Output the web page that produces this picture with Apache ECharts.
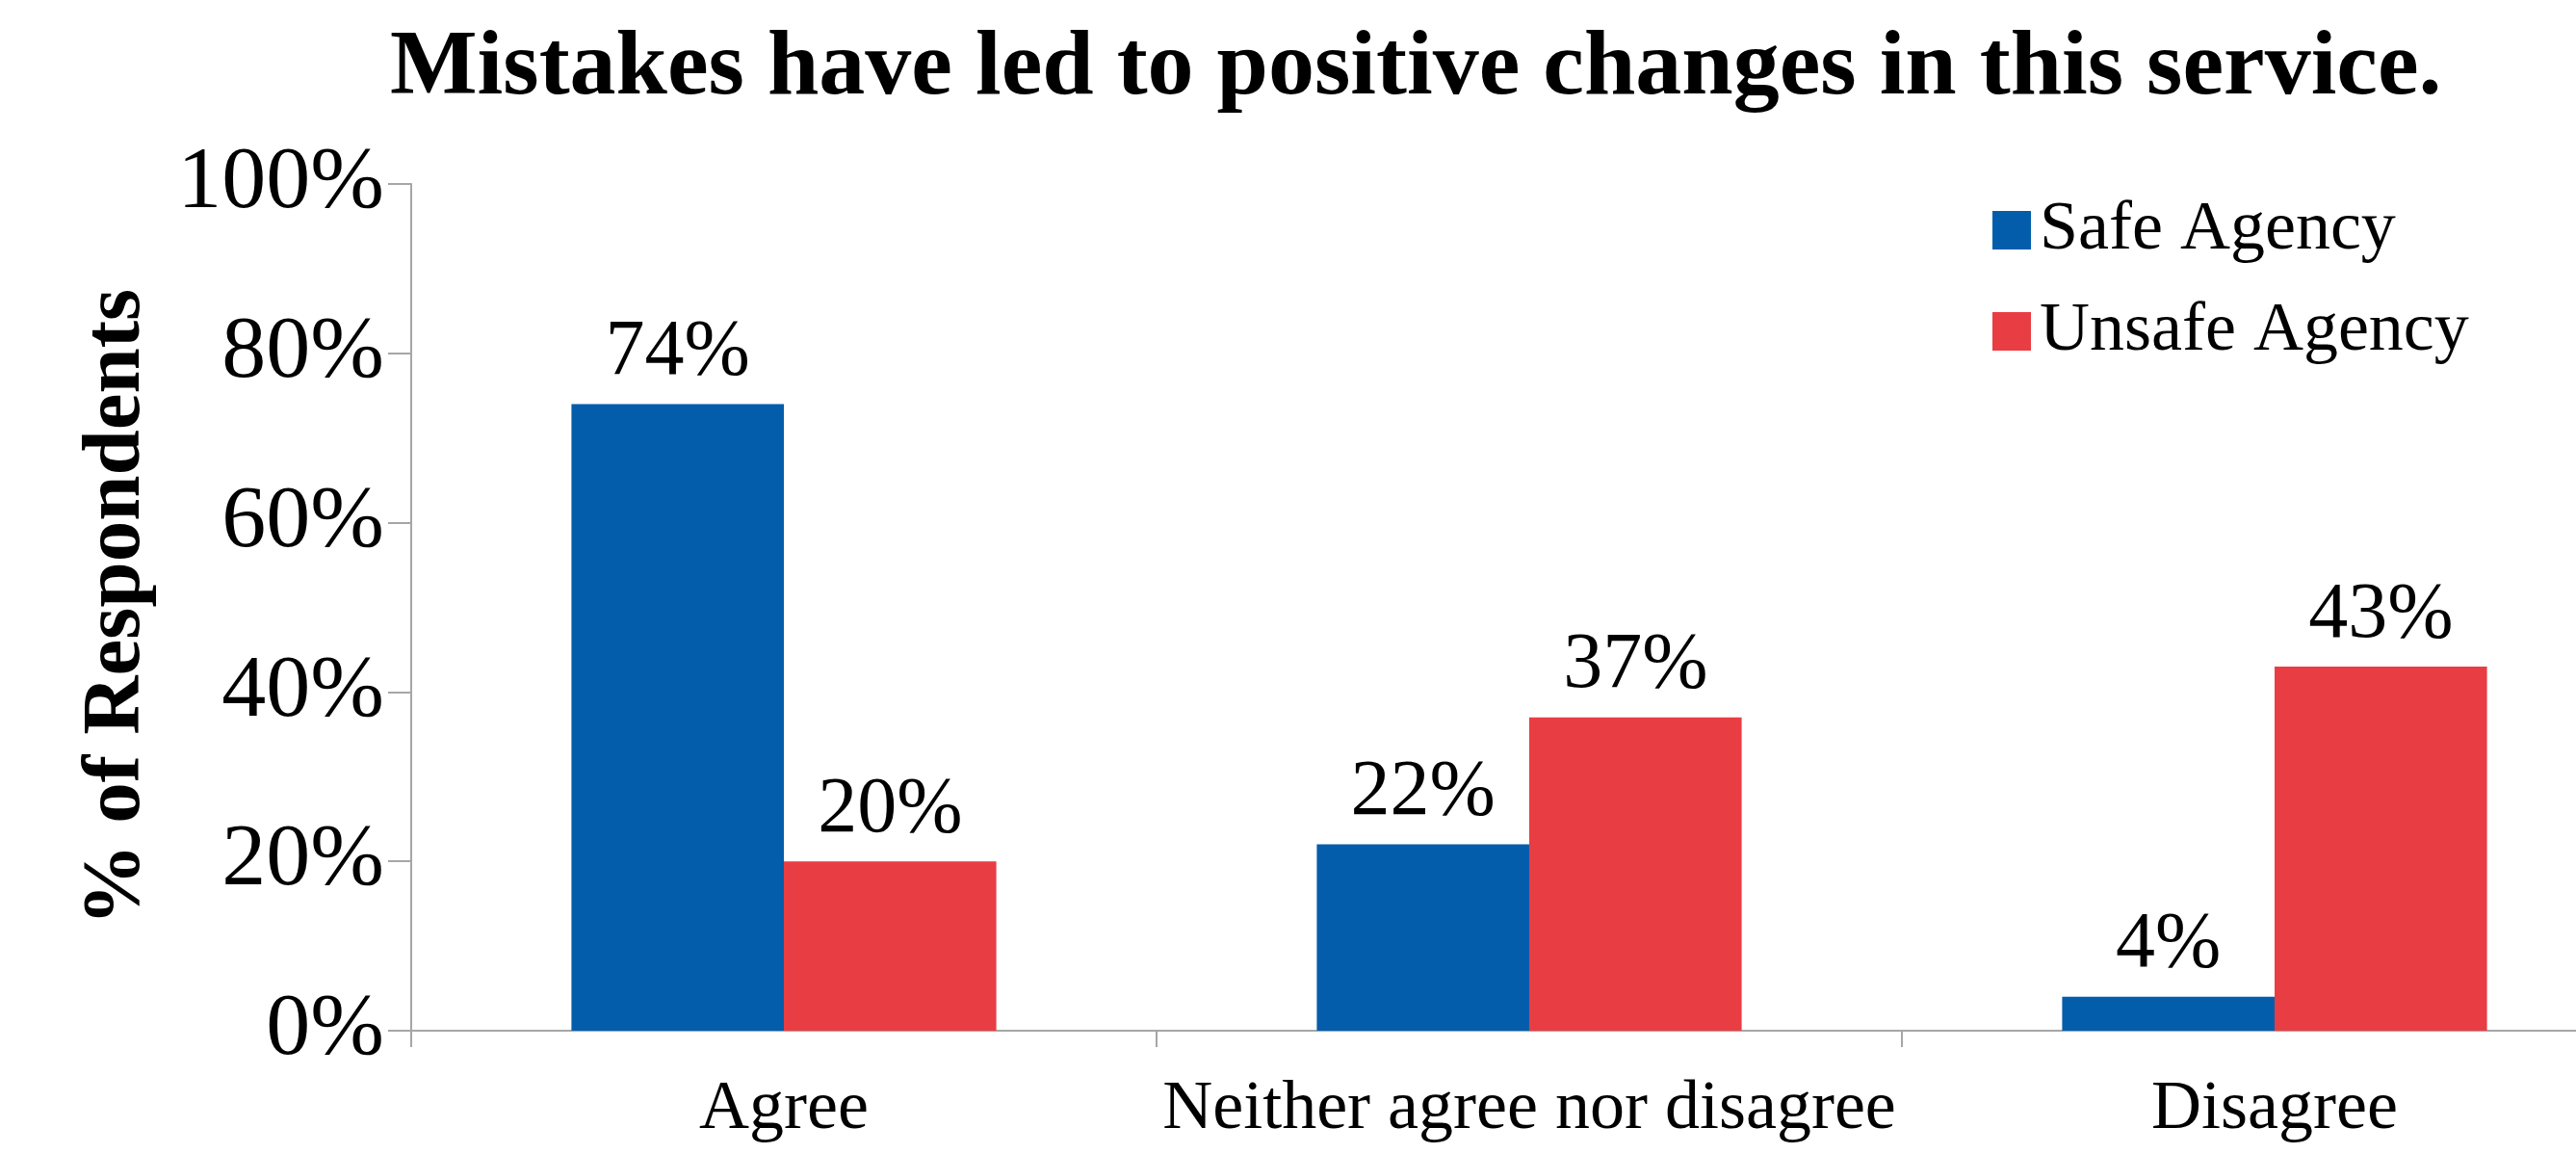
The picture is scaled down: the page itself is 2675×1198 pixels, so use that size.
<!DOCTYPE html>
<html>
<head>
<meta charset="utf-8">
<script src="https://cdn.jsdelivr.net/npm/echarts@6/dist/echarts.min.js"></script>
<style>
  html, body { margin: 0; padding: 0; background: #ffffff; overflow: hidden; }
  #chart { width: 2675px; height: 1198px; }
</style>
</head>
<body>
<div id="chart"></div>
<script>
// Survey responses by agency group
const categories = ['Agree', 'Neither agree nor disagree', 'Disagree'];
const safeAgency = [74, 22, 4];
const unsafeAgency = [20, 37, 43];
const seriesNames = ['Safe Agency', 'Unsafe Agency'];
const titleText = 'Mistakes have led to positive changes in this service.';
const yAxisName = '% of Respondents';

const FONT = '"Liberation Serif", "Times New Roman", serif';
const AXIS_GRAY = '#A6A6A6';

const chart = echarts.init(document.getElementById('chart'), null, { renderer: 'canvas' });

const labelStyle = {
  show: true,
  position: 'top',
  distance: 12,
  formatter: '{c}%',
  color: '#000',
  fontFamily: FONT,
  fontSize: 82
};

chart.setOption({
  animation: false,
  backgroundColor: '#ffffff',
  title: {
    text: titleText,
    left: 400,
    top: 19,
    textStyle: { fontFamily: FONT, fontWeight: 'bold', fontSize: 96, color: '#000' }
  },
  legend: {
    data: seriesNames,
    orient: 'vertical',
    left: 2064,
    top: 198,
    itemWidth: 40,
    itemHeight: 40,
    itemGap: 33,
    icon: 'rect',
    textStyle: { fontFamily: FONT, fontSize: 72, color: '#000', padding: [0, 0, 0, 4] }
  },
  grid: {
    left: 427,
    top: 191,
    width: 2322,
    height: 879,
    outerBoundsMode: 'none',
    containLabel: false
  },
  xAxis: {
    type: 'category',
    data: categories,
    boundaryGap: true,
    axisLine: { show: true, lineStyle: { color: AXIS_GRAY, width: 2 } },
    axisTick: { show: true, length: 17, alignWithLabel: false, lineStyle: { color: AXIS_GRAY, width: 2 } },
    axisLabel: { margin: 46, color: '#000', fontFamily: FONT, fontSize: 72, interval: 0 },
    splitLine: { show: false }
  },
  yAxis: {
    type: 'value',
    min: 0,
    max: 100,
    interval: 20,
    name: yAxisName,
    nameLocation: 'middle',
    nameGap: 262,
    nameTextStyle: { fontFamily: FONT, fontWeight: 'bold', fontSize: 85, color: '#000' },
    axisLine: { show: true, lineStyle: { color: AXIS_GRAY, width: 2 } },
    axisTick: { show: true, length: 24, lineStyle: { color: AXIS_GRAY, width: 2 } },
    axisLabel: { margin: 28, formatter: '{value}%', color: '#000', fontFamily: FONT, fontSize: 92 },
    splitLine: { show: false }
  },
  series: [
    {
      name: seriesNames[0],
      type: 'bar',
      data: safeAgency,
      barGap: '0%',
      barCategoryGap: '43%',
      itemStyle: { color: '#045DAA' },
      label: labelStyle
    },
    {
      name: seriesNames[1],
      type: 'bar',
      data: unsafeAgency,
      barGap: '0%',
      barCategoryGap: '43%',
      itemStyle: { color: '#E93D44' },
      label: labelStyle
    }
  ]
});
</script>
</body>
</html>
